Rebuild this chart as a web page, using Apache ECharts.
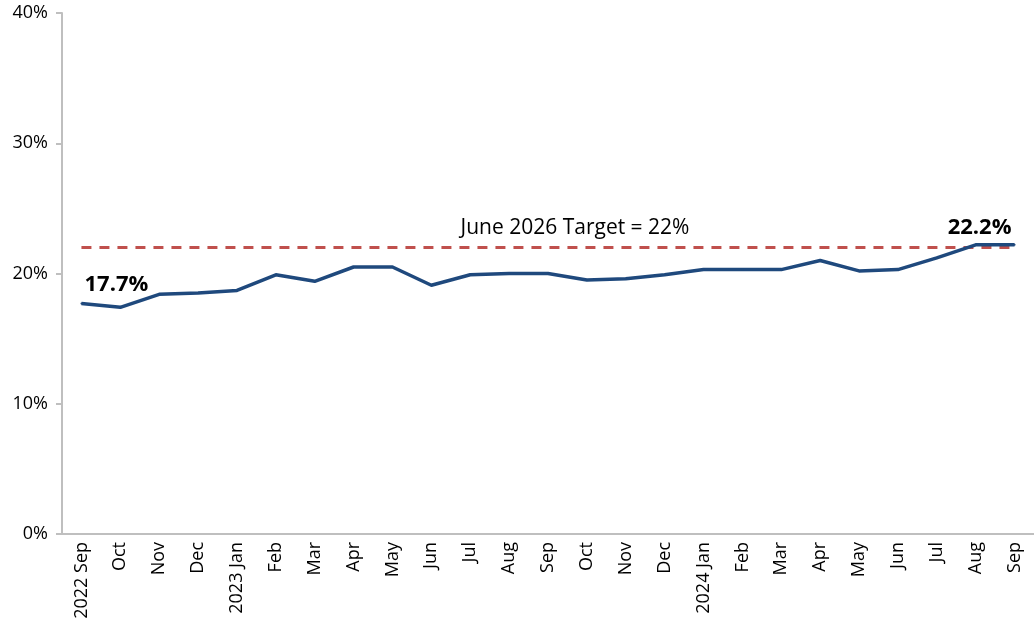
<!DOCTYPE html>
<html lang="en">
<head>
  <meta charset="UTF-8">
  <title>Share vs June 2026 Target</title>
  <script src="https://cdn.jsdelivr.net/npm/echarts@6/dist/echarts.min.js"></script>
  <style>
    body { margin: 0; background: #fff; }
  </style>
</head>
<body>
  <div id="main" style="width: 1034px; height: 624px;"></div>

  <script>
    // Data
    const months = ['2022 Sep', 'Oct', 'Nov', 'Dec', '2023 Jan', 'Feb', 'Mar', 'Apr', 'May', 'Jun',
      'Jul', 'Aug', 'Sep', 'Oct', 'Nov', 'Dec', '2024 Jan', 'Feb', 'Mar', 'Apr', 'May', 'Jun',
      'Jul', 'Aug', 'Sep'];
    const shareValues = [17.7, 17.4, 18.4, 18.5, 18.7, 19.9, 19.4, 20.5, 20.5, 19.1,
      19.9, 20.0, 20.0, 19.5, 19.6, 19.9, 20.3, 20.3, 20.3, 21.0, 20.2, 20.3,
      21.2, 22.2, 22.2];
    const targetValue = 22;
    const targetLabel = 'June 2026 Target = 22%';
    const yTicks = [0, 10, 20, 30, 40];

    const myChart = echarts.init(document.getElementById('main'));

    const font = '"Open Sans", "Noto Sans", sans-serif';

    // one point per month on the target line, labelled once in the middle
    const targetData = months.map((m, i) => {
      if (i === 12) {
        return {
          value: targetValue,
          label: {
            show: true, position: 'top', offset: [27, -3],
            formatter: targetLabel, fontFamily: font, fontSize: 21, color: '#000'
          }
        };
      }
      return targetValue;
    });

    const last = shareValues.length - 1;
    const shareData = shareValues.map((v, i) => {
      if (i === 0) {
        return { value: v, label: { show: true, position: 'top', offset: [35, -2] } };
      }
      if (i === last) {
        return { value: v, label: { show: true, position: 'top', offset: [-35, 0] } };
      }
      return v;
    });

    const options = {
      animation: false,
      grid: { left: 62, right: 0, top: 13, bottom: 90, containLabel: false },
      xAxis: {
        type: 'category',
        data: months,
        boundaryGap: true,
        axisLine: { lineStyle: { color: '#bfbfbf', width: 2 } },
        axisTick: { show: false },
        axisLabel: {
          interval: 0, rotate: 90, margin: 8,
          fontFamily: font, fontSize: 18, color: '#000'
        }
      },
      yAxis: {
        type: 'value',
        min: yTicks[0],
        max: yTicks[yTicks.length - 1],
        interval: 10,
        splitLine: { show: false },
        axisLine: { show: true, lineStyle: { color: '#bfbfbf', width: 2 } },
        axisTick: { show: true, length: 6, lineStyle: { color: '#bfbfbf', width: 2 } },
        axisLabel: {
          formatter: '{value}%', margin: 14,
          fontFamily: font, fontSize: 18, color: '#000'
        }
      },
      series: [
        {
          name: 'Target',
          type: 'line',
          data: targetData,
          symbol: 'circle',
          symbolSize: 1,
          itemStyle: { color: 'rgba(0,0,0,0)' },
          lineStyle: { color: '#c0504d', width: 3, type: [10, 8] },
          z: 2
        },
        {
          name: 'Share',
          type: 'line',
          data: shareData,
          symbol: 'circle',
          symbolSize: 2,
          itemStyle: { color: '#1f497d' },
          lineStyle: { color: '#1f497d', width: 3.5 },
          label: {
            show: false,
            formatter: p => p.value.toFixed(1) + '%',
            fontFamily: font, fontSize: 22, fontWeight: 'bold', color: '#000'
          },
          z: 3
        }
      ]
    };

    myChart.setOption(options);
  </script>
</body>
</html>
